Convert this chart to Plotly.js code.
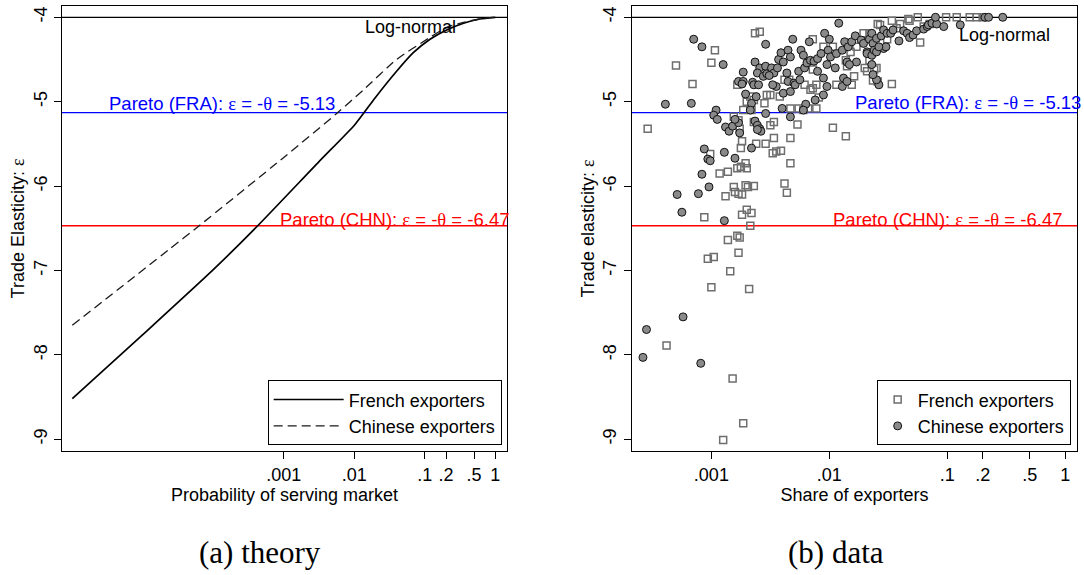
<!DOCTYPE html>
<html>
<head>
<meta charset="utf-8">
<script src="https://cdn.plot.ly/plotly-3.0.1.min.js"></script>
<style>
html,body{margin:0;padding:0;background:#fff;}
#chart{width:1084px;height:575px;}
</style>
</head>
<body>
<div id="chart"></div>
<script>
// ---------- Panel (a): theory curves (log10 of probability, elasticity) ----------
const frTheoryLogProb = [-6, -5, -4, -3.37, -2.5, -1.99, -1.70, -1.40, -1.163, -0.926, -0.69, -0.45, -0.217, 0];
const frTheoryEps     = [-8.52, -7.76, -6.99, -6.47, -5.71, -5.27, -4.95, -4.64, -4.42, -4.26, -4.15, -4.07, -4.02, -4.0];
const cnTheoryLogProb = [-6, -4.64, -4.2, -3, -2.25, -1.87, -1.4, -0.93, -0.69, -0.45, -0.22, 0];
const cnTheoryEps     = [-7.65, -6.76, -6.47, -5.66, -5.14, -4.86, -4.50, -4.24, -4.12, -4.06, -4.02, -4.0];

// ---------- Panel (b): data (log10 of share of exporters, elasticity) ----------
const frDataLogShare = [-3.54,-3.30,-3.16,-3.00,-2.97,-2.63,-2.59,-2.78,-2.67,-2.70,
 -2.64,-2.73,-2.66,-2.53,-2.50,-2.55,-2.42,-2.38,-2.34,-2.33,
 -2.26,-2.50,-2.47,-2.81,-2.77,-2.76,-2.74,-2.75,-2.64,-2.62,
 -2.54,-2.47,-2.48,-2.45,-2.41,-2.33,-2.33,-2.27,-2.22,-2.18,
 -2.11,-2.09,-2.11,-2.14,-2.21,-2.16,-2.14,-2.14,-2.05,-1.97,
 -1.94,-1.85,-1.86,-1.81,-1.79,-1.82,-1.77,-1.71,-1.70,-1.68,
 -1.66,-1.62,-1.60,-1.63,-1.59,-1.47,-1.57,-1.51,-1.47,-1.43,
 -1.40,-1.32,-1.23,-1.25,-1.20,-1.15,-1.01,-0.92,-0.81,-0.75,
 -0.70,-1.97,-1.86,-3.01,-2.93,-2.86,-2.78,-2.75,-2.71,-2.70,
 -2.81,-2.88,-2.80,-2.77,-2.71,-2.64,-2.69,-2.74,-2.38,-2.36,
 -3.06,-2.74,-2.70,-2.66,-2.67,-2.86,-2.78,-2.76,-2.77,-3.03,
 -2.98,-2.84,-3.00,-2.68,-3.38,-2.82,-2.73,-2.90,-1.59,-1.33,-1.66];
const frDataEps = [-5.32,-4.57,-4.79,-4.54,-4.39,-4.19,-4.17,-4.80,-4.94,-5.00,
 -4.98,-5.10,-5.10,-4.92,-4.92,-5.02,-4.94,-4.74,-4.74,-5.08,
 -5.08,-5.28,-5.24,-5.18,-5.22,-5.32,-5.47,-5.55,-5.24,-5.50,
 -5.50,-5.43,-5.61,-5.59,-5.58,-5.43,-5.73,-5.27,-5.10,-5.08,
 -5.08,-4.95,-4.80,-4.84,-4.80,-4.86,-4.62,-4.26,-4.35,-4.35,
 -4.80,-4.58,-4.51,-4.80,-4.70,-4.41,-4.35,-4.19,-4.60,-4.64,
 -4.51,-4.62,-4.60,-4.75,-4.76,-4.79,-4.09,-4.26,-4.04,-4.13,
 -4.08,-4.04,-4.30,-4.00,-4.11,-4.08,-4.00,-4.00,-4.00,-4.00,
 -4.00,-5.31,-5.41,-5.62,-5.85,-5.83,-5.79,-5.77,-5.73,-5.79,
 -6.01,-6.12,-6.07,-6.09,-5.99,-6.00,-6.01,-6.10,-5.97,-6.08,
 -6.37,-6.34,-6.28,-6.32,-6.47,-6.64,-6.59,-6.61,-6.79,-6.86,
 -6.84,-7.01,-7.20,-7.22,-7.89,-8.28,-8.81,-9.01,-4.08,-4.02,-4.19];

const cnDataLogShare = [-3.15,-3.08,-2.90,-3.39,-3.17,-2.96,-2.98,-2.95,-2.88,-2.85,
 -2.82,-2.76,-2.77,-2.80,-2.73,-2.77,-2.73,-2.74,-2.71,-2.65,
 -2.64,-2.60,-2.63,-2.59,-2.61,-2.54,-2.56,-2.53,-2.49,-2.47,
 -2.44,-2.43,-2.41,-2.39,-2.35,-2.33,-2.31,-2.54,-2.36,-2.35,
 -2.30,-2.39,-2.33,-2.45,-2.48,-2.51,-2.62,-2.66,-2.67,-2.54,
 -2.63,-2.61,-2.59,-2.58,-2.61,-2.66,
 -2.26,-2.24,-2.22,-2.21,-2.19,-2.16,-2.17,-2.13,-2.10,-2.10,
 -2.07,-2.04,-2.00,-2.02,-2.01,-1.99,-1.95,-1.94,-1.92,-1.89,
 -1.87,-1.84,-1.81,-1.78,-1.77,-1.85,-1.83,-1.88,-1.89,-1.85,
 -1.73,-1.71,-1.68,-1.66,-1.64,-1.63,-1.60,-1.56,-1.54,-1.51,
 -1.48,-1.46,-1.41,-1.37,-1.34,-1.32,-1.29,-1.26,-1.20,-1.17,
 -1.16,-1.13,-1.09,-1.10,-1.03,-0.89,-0.68,-0.65,-0.53,
 -1.58,-1.60,-1.63,-1.64,-1.54,-1.52,-1.68,-1.64,-1.62,-1.60,-1.58,
 -2.05,-2.20,-2.22,-2.12,-2.33,-2.40,-2.29,-2.25,-2.05,-2.02,
 -3.06,-3.03,-3.01,-3.08,-2.89,-2.80,-3.29,-3.11,-3.02,-3.25,-2.89,-3.55,-3.58,-3.24,-3.09];
const cnDataEps = [-4.26,-4.35,-4.56,-5.03,-5.02,-5.10,-5.16,-5.21,-5.30,-5.35,
 -5.29,-5.37,-5.25,-5.21,-4.65,-4.76,-4.76,-4.79,-4.91,-4.77,
 -4.80,-4.80,-4.53,-4.60,-4.66,-4.58,-4.70,-4.67,-4.60,-4.66,
 -4.60,-4.50,-4.42,-4.53,-4.39,-4.47,-4.26,-4.32,-4.66,-4.76,
 -4.78,-4.90,-4.88,-4.82,-4.80,-4.69,-4.94,-5.02,-5.10,-5.14,
 -5.23,-5.28,-5.32,-5.35,-5.33,-5.55,
 -4.64,-4.39,-4.45,-4.60,-4.54,-4.51,-4.29,-4.52,-4.64,-4.49,
 -4.43,-4.19,-4.26,-4.56,-4.39,-4.47,-4.60,-4.43,-4.07,-4.39,
 -4.29,-4.35,-4.29,-4.22,-4.53,-4.53,-4.56,-4.72,-4.82,-4.76,
 -4.27,-4.31,-4.41,-4.26,-4.19,-4.31,-4.25,-4.22,-4.15,-4.19,
 -4.19,-4.15,-4.28,-4.16,-4.19,-4.24,-4.21,-4.16,-4.14,-4.11,
 -4.09,-4.07,-4.08,-4.00,-4.11,-4.09,-4.00,-4.00,-4.00,
 -4.80,-4.74,-4.68,-4.56,-4.37,-4.35,-4.43,-4.45,-4.39,-4.41,-4.35,
 -4.92,-5.03,-5.10,-4.98,-5.18,-5.08,-4.80,-4.74,-4.72,-4.82,
 -5.56,-5.68,-5.70,-5.86,-5.60,-5.67,-6.10,-6.09,-6.01,-6.31,-6.41,-7.70,-8.03,-7.55,-8.10];

// ---------- reference levels & ticks ----------
const refLevels = [-4, -5.13, -6.47];
const refColors = ['#000000', '#0000ff', '#ff0000'];
const xTickVals = [0.001, 0.01, 0.1, 0.2, 0.5, 1];
const xTickText = ['.001', '.01', '.1', '.2', '.5', '1'];
const yTickVals = [-4, -5, -6, -7, -8, -9];
const yTickText = ['-4', '-5', '-6', '-7', '-8', '-9'];
const seriesNames = ['French exporters', 'Chinese exporters'];

const toLin = a => a.map(v => Math.pow(10, v));
const SANS = 'Liberation Sans, Arial, Helvetica, sans-serif';
const SERIF = 'Liberation Serif, Times New Roman, serif';
const eps = '<span style="font-family:Liberation Serif, serif">ε</span>';
const theta = '<span style="font-family:Liberation Serif, serif">θ</span>';

const traces = [
  {x: toLin(frTheoryLogProb), y: frTheoryEps, xaxis:'x', yaxis:'y', legend:'legend',
   name: seriesNames[0], mode:'lines', line:{color:'#000', width:1.7, shape:'spline', smoothing:0.6}},
  {x: toLin(cnTheoryLogProb), y: cnTheoryEps, xaxis:'x', yaxis:'y', legend:'legend',
   name: seriesNames[1], mode:'lines', line:{color:'#1a1a1a', width:1.3, dash:'9px,5px', shape:'spline', smoothing:0.6}},
  {x: toLin(frDataLogShare), y: frDataEps, xaxis:'x2', yaxis:'y2', legend:'legend2',
   name: seriesNames[0], mode:'markers',
   marker:{symbol:'square-open', size:7, color:'#6e6e6e', line:{width:1.5}}},
  {x: toLin(cnDataLogShare), y: cnDataEps, xaxis:'x2', yaxis:'y2', legend:'legend2',
   name: seriesNames[1], mode:'markers',
   marker:{symbol:'circle', size:8, color:'#8a8a8a', line:{color:'#111', width:1}}}
];

const shapes = [];
[['x','y'],['x2','y2']].forEach(([xa, ya]) => {
  refLevels.forEach((lv, i) => {
    shapes.push({type:'line', layer:'below', xref: xa + ' domain', x0:0, x1:1,
      yref: ya, y0: lv, y1: lv, line:{color: refColors[i], width:1.3}});
  });
});

function xAxis(domain, range, title, anchor) {
  return {domain, type:'log', range, autorange:false, anchor,
    tickmode:'array', tickvals:xTickVals, ticktext:xTickText,
    ticks:'outside', ticklen:7, tickwidth:1, tickcolor:'#000',
    showline:true, mirror:true, linecolor:'#000', linewidth:1.2,
    showgrid:false, zeroline:false, tickfont:{size:18, color:'#000'},
    title:{text:title, font:{size:18, color:'#000'}, standoff:2}};
}
function yAxis(title, anchor) {
  return {domain:[0.2157, 0.9896], range:[-9.139, -3.866], autorange:false, anchor,
    tickmode:'array', tickvals:yTickVals, ticktext:yTickText, tickangle:-90,
    ticks:'outside', ticklen:7, tickwidth:1, tickcolor:'#000',
    showline:true, mirror:true, linecolor:'#000', linewidth:1.2,
    showgrid:false, zeroline:false, tickfont:{size:18, color:'#000'},
    title:{text:title, font:{size:18, color:'#000'}, standoff:1}};
}

const fra = 'Pareto (FRA): ' + eps + ' = -' + theta + ' = -5.13';
const chn = 'Pareto (CHN): ' + eps + ' = -' + theta + ' = -6.47';
const annotations = [
  {xref:'x', yref:'y', x:-1.88, y:-4.11, text:'Log-normal', showarrow:false, xanchor:'left', yanchor:'middle', font:{size:18, color:'#000'}},
  {xref:'x', yref:'y', x:-5.505, y:-5.027, text:fra, showarrow:false, xanchor:'left', yanchor:'middle', font:{size:18.5, color:'#0000ff'}},
  {xref:'x', yref:'y', x:-3.087, y:-6.40, text:chn, showarrow:false, xanchor:'left', yanchor:'middle', font:{size:18.5, color:'#ff0000'}},
  {xref:'x2', yref:'y2', x:-0.92, y:-4.21, text:'Log-normal', showarrow:false, xanchor:'left', yanchor:'middle', font:{size:18, color:'#000'}},
  {xref:'x2', yref:'y2', x:-1.80, y:-5.015, text:fra, showarrow:false, xanchor:'left', yanchor:'middle', font:{size:18.5, color:'#0000ff'}},
  {xref:'x2', yref:'y2', x:-1.985, y:-6.40, text:chn, showarrow:false, xanchor:'left', yanchor:'middle', font:{size:18.5, color:'#ff0000'}},
  {xref:'paper', yref:'paper', x:0.2399, y:0.0383, text:'(a) theory', showarrow:false, xanchor:'center', yanchor:'middle', font:{family:SERIF, size:31, color:'#000'}},
  {xref:'paper', yref:'paper', x:0.7712, y:0.0383, text:'(b) data', showarrow:false, xanchor:'center', yanchor:'middle', font:{family:SERIF, size:31, color:'#000'}}
];

const legendBase = {y:0.2256, xanchor:'right', yanchor:'bottom', bgcolor:'#fff',
  bordercolor:'#000', borderwidth:1, font:{size:18, color:'#000'}, tracegroupgap:0};

const layout = {
  width:1084, height:575, margin:{l:0, r:0, t:0, b:0},
  paper_bgcolor:'#fff', plot_bgcolor:'#fff',
  font:{family:SANS, size:18, color:'#000'},
  xaxis: xAxis([0.0572, 0.4677], [-6.146, 0.166], 'Probability of serving market', 'y'),
  yaxis: yAxis('Trade Elasticity: ' + eps, 'x'),
  xaxis2: xAxis([0.5828, 0.9938], [-3.675, 0.102], 'Share of exporters', 'y2'),
  yaxis2: yAxis('Trade elasticity: ' + eps, 'x2'),
  legend: Object.assign({}, legendBase, {x:0.4628, itemwidth:70}),
  legend2: Object.assign({}, legendBase, {x:0.9877}),
  shapes, annotations, showlegend:true
};

Plotly.newPlot('chart', traces, layout, {displayModeBar:false, staticPlot:true});
</script>
</body>
</html>
